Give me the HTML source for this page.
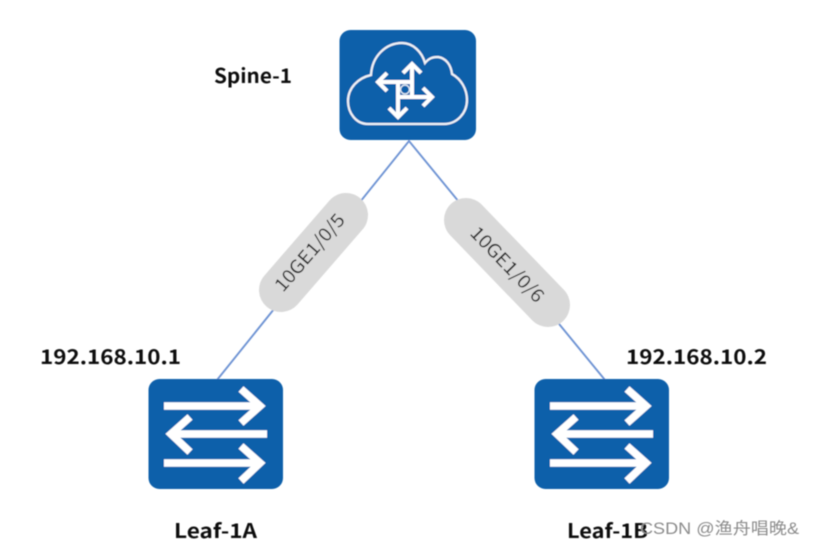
<!DOCTYPE html>
<html>
<head>
<meta charset="utf-8">
<style>
html,body{margin:0;padding:0;background:#fff;width:814px;height:547px;overflow:hidden}
svg{display:block}
.b{font-family:"Noto Sans CJK SC","Liberation Sans",sans-serif;font-weight:700;font-size:20px;fill:#111}
.p{font-family:"Noto Sans CJK SC","Liberation Sans",sans-serif;font-size:18.5px;fill:#2a2a2a}
.w{font-family:"Liberation Sans","Noto Sans CJK SC",sans-serif;font-size:16.5px;fill:#8c8c8c}
</style>
</head>
<body>
<svg width="814" height="547" viewBox="0 0 814 547" xmlns="http://www.w3.org/2000/svg">
<defs>
<filter id="s" x="-5%" y="-5%" width="110%" height="110%"><feGaussianBlur stdDeviation="0.5"/></filter>
<g id="leaf">
  <rect x="148.500" y="379" width="134.500" height="110" rx="11" fill="#1160aa"/>
  <g fill="none" stroke="#fff" stroke-width="7.5">
    <path d="M164 406H258"/>
    <path d="M241 389L260 406L241 423"/>
    <path d="M267 434H172"/>
    <path d="M190 417L171 434L190 452"/>
    <path d="M164 463H258"/>
    <path d="M241 446L260 463L241 481"/>
  </g>
</g>
</defs>
<g filter="url(#s)">
  <path d="M217 380L409 141L605 380" fill="none" stroke="#6f94d4" stroke-width="1.9"/>

  <rect x="339.500" y="30" width="136.500" height="110" rx="11" fill="#1160aa"/>
  <path d="M368 124C356 124 348 113 348 101C348 88 358 78 371 75C372 56 386 43 402 43C413 43 422 52 425 63C429 58 433 57 438 57C446 58 451 65 452 74C461 79 467 89 467 100C467 113 457 124 444 124Z" fill="none" stroke="#eef2f7" stroke-width="2.2"/>
  <g fill="none" stroke="#fff" stroke-width="4">
    <path d="M412 97V66"/>
    <path d="M403 73L412 64L421 73"/>
    <path d="M412 82H380"/>
    <path d="M387 73L378 82L387 91"/>
    <path d="M398 82V115"/>
    <path d="M389 108L398 117L407 108"/>
    <path d="M398 97H430"/>
    <path d="M423 88L432 97L423 106"/>
  </g>
  <circle cx="405" cy="89.500" r="4.500" fill="#1160aa" stroke="#dfe9f3" stroke-width="1.4"/>

  <use href="#leaf"/>
  <use href="#leaf" x="386"/>

  <path d="M346 215L281 290" stroke="#d9d9d9" stroke-width="44" stroke-linecap="round" fill="none"/>
  <path d="M466 220L548 305" stroke="#d9d9d9" stroke-width="44" stroke-linecap="round" fill="none"/>

  <text class="p" transform="translate(283 293) rotate(-49)" textLength="96" lengthAdjust="spacingAndGlyphs">10GE1/0/5</text>
  <text class="p" transform="translate(469 234) rotate(46)" textLength="97" lengthAdjust="spacingAndGlyphs">10GE1/0/6</text>

  <text class="b" x="214" y="83" textLength="78" lengthAdjust="spacingAndGlyphs">Spine-1</text>
  <text class="b" x="40" y="364" textLength="141" lengthAdjust="spacingAndGlyphs">192.168.10.1</text>
  <text class="b" x="626" y="364" textLength="141" lengthAdjust="spacingAndGlyphs">192.168.10.2</text>
  <text class="b" x="174" y="538" textLength="83" lengthAdjust="spacingAndGlyphs">Leaf-1A</text>
  <text class="b" x="567" y="538" textLength="81" lengthAdjust="spacingAndGlyphs">Leaf-1B</text>
  <text class="w" x="640" y="534" textLength="159" lengthAdjust="spacingAndGlyphs">CSDN @渔舟唱晚&amp;</text>
</g>
</svg>
</body>
</html>
